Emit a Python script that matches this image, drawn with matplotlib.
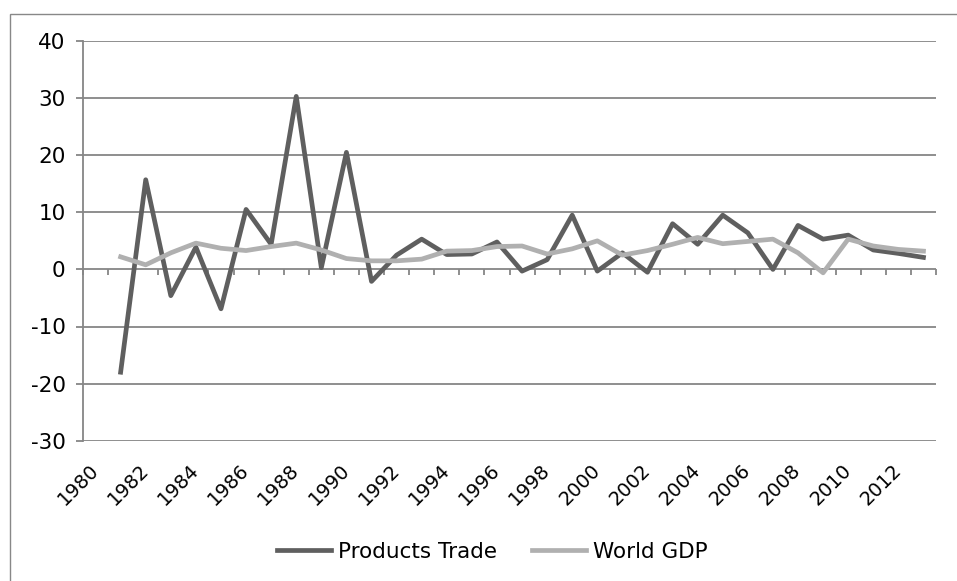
import numpy as np
import matplotlib.pyplot as plt
from matplotlib.patches import Rectangle

years = list(range(1980, 2014))
trade = [np.nan, -18.0, 15.7, -4.6, 3.9, -6.9, 10.5, 4.4, 30.3, 0.3, 20.5,
         -2.1, 2.5, 5.3, 2.6, 2.7, 4.8, -0.3, 1.7, 9.5, -0.3, 2.9, -0.5,
         8.0, 4.4, 9.5, 6.4, 0.0, 7.7, 5.3, 6.0, 3.4, 2.8, 2.1]
gdp = [np.nan, 2.2, 0.8, 2.9, 4.6, 3.7, 3.3, 4.0, 4.6, 3.4, 1.9,
       1.5, 1.5, 1.8, 3.2, 3.3, 4.0, 4.1, 2.7, 3.6, 5.0, 2.5, 3.3,
       4.4, 5.6, 4.5, 4.9, 5.3, 2.9, -0.6, 5.3, 4.1, 3.5, 3.2]
yticks = [40, 30, 20, 10, 0, -10, -20, -30]

plt.rcParams['font.family'] = 'DejaVu Sans'
plt.rcParams['axes.unicode_minus'] = False

fig = plt.figure(figsize=(9.57, 5.81), dpi=100)
ax = fig.add_axes([83/957, 1-440.7/581, (936-83)/957, (440.7-41)/581])

grid_c = '#868686'
x = np.arange(len(years))
ax.plot(x, trade, color='#5f5f5f', lw=3.4, label='Products Trade', zorder=3)
ax.plot(x, gdp, color='#b0b0b0', lw=3.4, label='World GDP', zorder=4)

ax.set_xlim(-0.5, len(years) - 0.5)
ax.set_ylim(-30, 40)
ax.set_yticks(yticks)
ax.set_yticklabels([str(v) for v in yticks], fontsize=15.5)
ax.yaxis.grid(True, color=grid_c, lw=1.3)
ax.set_axisbelow(True)

for s in ['top', 'right', 'bottom']:
    ax.spines[s].set_visible(False)
ax.spines['left'].set_color(grid_c)
ax.spines['left'].set_linewidth(1.3)
ax.tick_params(axis='y', length=5, width=1.3, color=grid_c, pad=7.5)

# category labels at the bottom, no ticks there
ax.set_xticks(x[::2])
ax.set_xticklabels([str(y) for y in years[::2]], rotation=45, ha='right',
                   va='center', rotation_mode='anchor', fontsize=14)
ax.tick_params(axis='x', length=0, pad=19)

# tick marks on the zero line between categories
sec = ax.secondary_xaxis(30/70)
sec.set_xticks(np.arange(-0.5, len(years)))
sec.set_xticklabels([])
sec.tick_params(axis='x', direction='out', length=4.2, width=1.3, color=grid_c)
sec.spines['bottom'].set_visible(False)

ax.legend(loc='center', bbox_to_anchor=(492.5/957, 1-552/581),
          bbox_transform=fig.transFigure, ncol=2, frameon=False,
          fontsize=15.5, handlelength=2.5, handletextpad=0.35,
          columnspacing=1.6)

fig.patches.append(Rectangle((9.5/957, -0.5), 2, 0.5 + 1 - 13.5/581,
                             transform=fig.transFigure, fill=False,
                             edgecolor='#888888', lw=1.0))

fig.savefig('out.png', dpi=100)
